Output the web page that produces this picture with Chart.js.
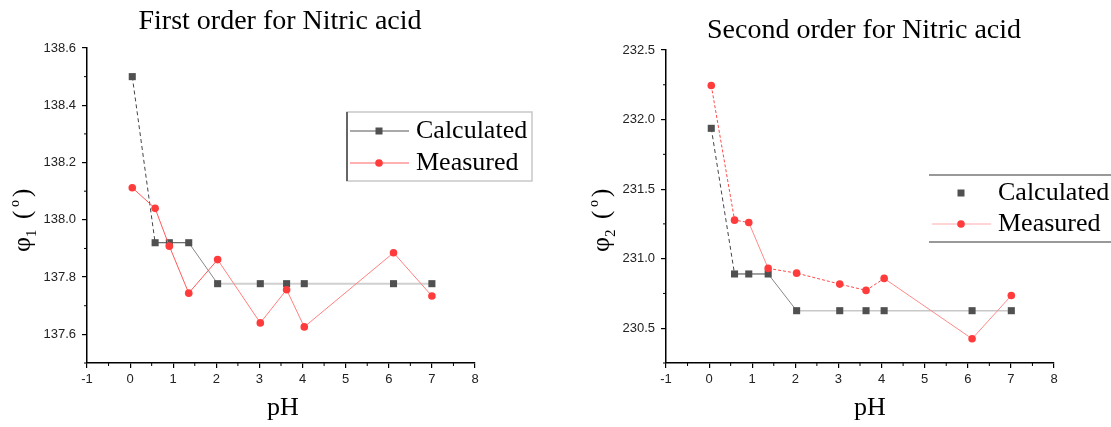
<!DOCTYPE html>
<html>
<head>
<meta charset="utf-8">
<script src="https://cdn.jsdelivr.net/npm/chart.js@4.4.1/dist/chart.umd.min.js"></script>
<style>
  body { margin: 0; background: #fff; }
  #wrap { position: relative; width: 1111px; height: 427px; }
  canvas { position: absolute; top: 0; }
</style>
</head>
<body>
<div id="wrap">
  <canvas id="left" width="555" height="427" style="left:0"></canvas>
  <canvas id="right" width="556" height="427" style="left:555px"></canvas>
</div>
<script>
// pH values (x) and phi values
const pHLeft = [0.05, 0.58, 0.91, 1.36, 2.03, 3.02, 3.63, 4.04, 6.11, 7.0]
const calcLeft = [138.50, 137.92, 137.92, 137.92, 137.777, 137.777, 137.777, 137.777, 137.777, 137.777]
const measLeft = [138.112, 138.04, 137.908, 137.744, 137.861, 137.64, 137.756, 137.626, 137.885, 137.734]

const pHRight = [0.05, 0.59, 0.92, 1.37, 2.03, 3.03, 3.64, 4.06, 6.10, 7.01]
const calcRight = [231.937, 230.89, 230.89, 230.89, 230.626, 230.626, 230.626, 230.626, 230.626, 230.626]
const measRight = [232.245, 231.277, 231.26, 230.93, 230.896, 230.817, 230.772, 230.858, 230.424, 230.735]

const xTicks = [-1, 0, 1, 2, 3, 4, 5, 6, 7, 8]
const yTicksLeft = [137.6, 137.8, 138.0, 138.2, 138.4, 138.6]
const yTicksRight = [230.5, 231.0, 231.5, 232.0, 232.5]

const SERIF = '"Liberation Serif", "Times New Roman", serif'
const SANS = '"Liberation Sans", Arial, sans-serif'
const DARK = '#505050'
const RED = '#ff3b3b'

function pts(xs, ys) {
  return xs.map(function(x, i) { return {x: x, y: ys[i]} })
}

// phi with subscript, then "( o )" with a raised o
function drawYTitle(ctx, cx, cy, sub) {
  const parts = [
    {t: 'φ', f: '26px ' + SERIF, at: 0, dy: 0},
    {t: sub, f: '15px ' + SERIF, at: 15, dy: 6},
    {t: '(', f: '25px ' + SERIF, at: 33, dy: 0},
    {t: 'o', f: '14px ' + SERIF, at: 45, dy: -11},
    {t: ')', f: '25px ' + SERIF, at: 55, dy: 0}
  ]
  ctx.save()
  ctx.translate(cx, cy)
  ctx.rotate(-Math.PI / 2)
  ctx.fillStyle = '#000'
  ctx.textBaseline = 'alphabetic'
  ctx.textAlign = 'left'
  parts.forEach(function(p) { ctx.font = p.f; ctx.fillText(p.t, p.at - 32, p.dy) })
  ctx.restore()
}

function square(ctx, x, y, s, c) {
  ctx.fillStyle = c
  ctx.fillRect(x - s / 2, y - s / 2, s, s)
}
function dot(ctx, x, y, r, c) {
  ctx.fillStyle = c
  ctx.beginPath()
  ctx.arc(x, y, r, 0, Math.PI * 2)
  ctx.fill()
}
function hline(ctx, x1, x2, y, c, w) {
  ctx.strokeStyle = c
  ctx.lineWidth = w
  ctx.beginPath()
  ctx.moveTo(x1, y)
  ctx.lineTo(x2, y)
  ctx.stroke()
}

function decor(o) {
  return {
    id: 'decor',
    afterDraw: function(chart) {
      const ctx = chart.ctx
      const xs = chart.scales.x, ys = chart.scales.y
      ctx.save()
      // minor ticks
      ctx.strokeStyle = '#000'
      ctx.lineWidth = 1
      for (let v = -0.5; v < 8; v += 1) {
        const px = xs.getPixelForValue(v)
        ctx.beginPath(); ctx.moveTo(px, xs.top); ctx.lineTo(px, xs.top + 3); ctx.stroke()
      }
      o.yMinor.forEach(function(v) {
        const py = ys.getPixelForValue(v)
        ctx.beginPath(); ctx.moveTo(ys.right, py); ctx.lineTo(ys.right - 3, py); ctx.stroke()
      })
      // titles
      ctx.fillStyle = '#000'
      ctx.textAlign = 'center'
      ctx.textBaseline = 'middle'
      ctx.font = '28px ' + SERIF
      ctx.fillText(o.title, o.titleX, o.titleY)
      ctx.font = '26px ' + SERIF
      ctx.fillText('pH', o.phX, 408)
      drawYTitle(ctx, o.yTitleX, 220, o.sub)
      o.legend(ctx)
      ctx.restore()
    }
  }
}

function makeChart(id, pH, calc, meas, o) {
  new Chart(document.getElementById(id), {
    type: 'scatter',
    data: {
      datasets: [{
        label: 'Measured',
        data: pts(pH, meas),
        showLine: true,
        order: 0,
        borderColor: '#ff7070',
        borderWidth: 1,
        pointStyle: 'circle',
        pointRadius: 3.8,
        pointBackgroundColor: RED,
        pointBorderWidth: 0,
        segment: o.measSeg
      }, {
        label: 'Calculated',
        data: pts(pH, calc),
        showLine: true,
        order: 1,
        borderColor: DARK,
        borderWidth: 1,
        pointStyle: 'rect',
        pointRadius: 5,
        pointBackgroundColor: DARK,
        pointBorderWidth: 0,
        segment: o.calcSeg
      }]
    },
    options: {
      responsive: false,
      animation: false,
      layout: { padding: { left: 0, top: o.top, right: o.right, bottom: 0 } },
      plugins: { legend: { display: false }, tooltip: { enabled: false } },
      scales: {
        x: {
          type: 'linear', min: -1, max: 8,
          afterBuildTicks: function(s) { s.ticks = xTicks.map(function(v) { return {value: v} }) },
          afterFit: function(s) { s.height = 64 },
          border: { color: '#000', width: 1.5 },
          grid: { drawOnChartArea: false, color: '#000', tickLength: 5, lineWidth: 1.2 },
          ticks: { color: '#222', font: { family: SANS, size: 13 }, padding: 4, maxRotation: 0,
                   callback: function(v) { return String(v) } }
        },
        y: {
          type: 'linear', min: o.yMin, max: o.yMax,
          afterBuildTicks: function(s) { s.ticks = o.yTicks.map(function(v) { return {value: v} }) },
          afterFit: function(s) { s.width = o.yWidth },
          border: { color: '#000', width: 1.5 },
          grid: { drawOnChartArea: false, color: '#000', tickLength: 5, lineWidth: 1.2 },
          ticks: { color: '#222', font: { family: SANS, size: 13 }, padding: 6,
                   callback: function(v) { return Number(v).toFixed(1) } }
        }
      }
    },
    plugins: [decor(o)]
  })
}

// left: First order
makeChart('left', pHLeft, calcLeft, measLeft, {
  top: 48, right: 80, yWidth: 87, yMin: 137.5, yMax: 138.6, yTicks: yTicksLeft,
  yMinor: [137.5, 137.7, 137.9, 138.1, 138.3, 138.5],
  title: 'First order for Nitric acid', titleX: 280, titleY: 22, phX: 283, yTitleX: 30, sub: '1',
  calcSeg: {
    borderDash: function(c) { return c.p0DataIndex === 0 ? [4, 3] : undefined },
    borderColor: function(c) { return c.p0DataIndex < 3 ? '#444' : (c.p0DataIndex === 3 ? '#888' : '#d0d0d0') },
    borderWidth: function(c) { return c.p0DataIndex >= 4 ? 2 : 1 }
  },
  measSeg: {
    borderColor: function(c) { return c.p0DataIndex < 4 ? '#ff5a5a' : '#ff8080' }
  },
  legend: function(ctx) {
    ctx.strokeStyle = '#c8c8c8'; ctx.lineWidth = 1.5
    ctx.strokeRect(347, 112, 185, 69)
    ctx.strokeStyle = '#666'; ctx.lineWidth = 2
    ctx.beginPath(); ctx.moveTo(347, 112); ctx.lineTo(347, 181); ctx.stroke()
    hline(ctx, 350, 409, 131, '#555', 1)
    square(ctx, 379, 131, 7, DARK)
    hline(ctx, 350, 409, 163, '#ff6060', 1)
    dot(ctx, 379, 163, 3.8, RED)
    ctx.fillStyle = '#000'; ctx.textAlign = 'left'; ctx.textBaseline = 'middle'
    ctx.font = '26px ' + SERIF
    ctx.fillText('Calculated', 416, 131)
    ctx.fillText('Measured', 416, 163)
  }
})

// right: Second order
makeChart('right', pHRight, calcRight, measRight, {
  top: 50, right: 57, yWidth: 111, yMin: 230.25, yMax: 232.5, yTicks: yTicksRight,
  yMinor: [230.25, 230.75, 231.25, 231.75, 232.25],
  title: 'Second order for Nitric acid', titleX: 309, titleY: 31, phX: 315, yTitleX: 54, sub: '2',
  calcSeg: {
    borderDash: function(c) { return c.p0DataIndex === 0 ? [4, 3] : undefined },
    borderColor: function(c) { return c.p0DataIndex < 3 ? '#444' : (c.p0DataIndex === 3 ? '#888' : '#c8c8c8') },
    borderWidth: function(c) { return c.p0DataIndex >= 4 ? 1.5 : 1 }
  },
  measSeg: {
    borderDash: function(c) { const i = c.p0DataIndex; return (i <= 1 || (i >= 3 && i <= 6)) ? [3, 2] : undefined },
    borderColor: function(c) { const i = c.p0DataIndex; return (i <= 1 || (i >= 3 && i <= 6)) ? '#ff4a4a' : '#ff8a8a' }
  },
  legend: function(ctx) {
    hline(ctx, 374, 556, 175, '#999', 2)
    hline(ctx, 374, 556, 242, '#999', 2)
    square(ctx, 406, 193, 7, DARK)
    hline(ctx, 377, 436, 224, '#ffaaaa', 1)
    dot(ctx, 406, 224, 3.8, RED)
    ctx.fillStyle = '#000'; ctx.textAlign = 'left'; ctx.textBaseline = 'middle'
    ctx.font = '26px ' + SERIF
    ctx.fillText('Calculated', 443, 193)
    ctx.fillText('Measured', 443, 224)
  }
})
</script>
</body>
</html>
